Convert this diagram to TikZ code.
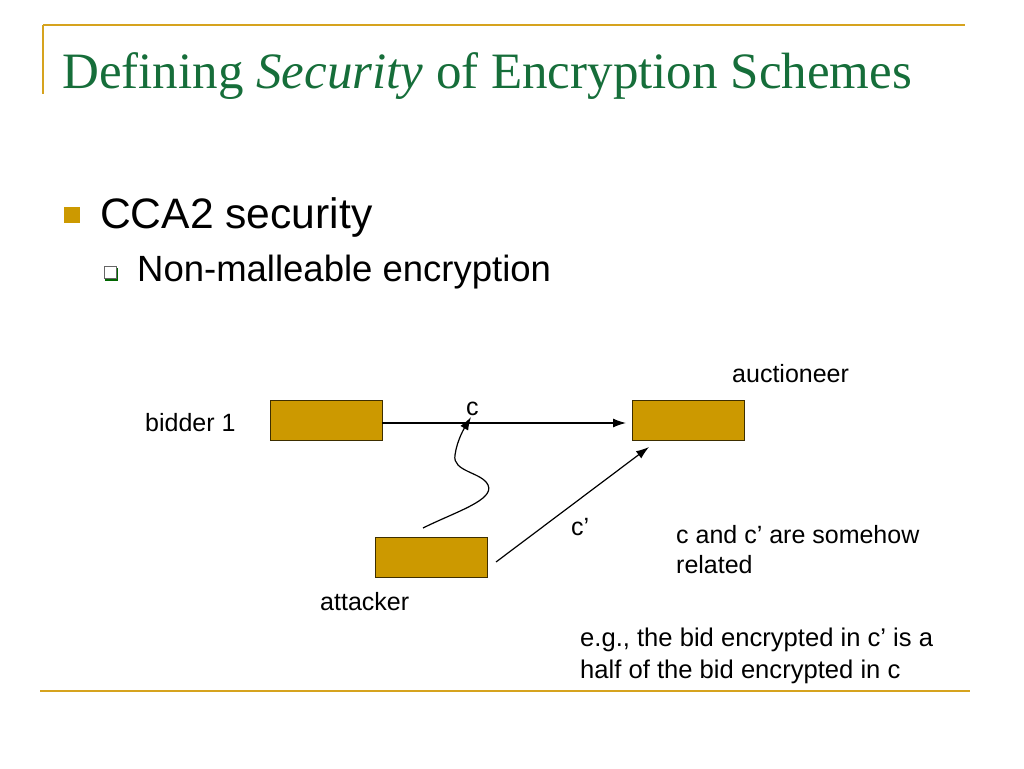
\documentclass[tikz,border=0pt]{standalone}
\usepackage{fontspec}
\setmainfont{Liberation Sans}
\newfontfamily\titlefont{Liberation Serif}
\usetikzlibrary{positioning,shapes,arrows.meta}
\definecolor{gold}{RGB}{214,163,30}
\definecolor{boxgold}{RGB}{204,153,0}
\definecolor{titlegreen}{RGB}{22,110,58}
\tikzset{
  party/.style={draw=black!70!boxgold,shape=rectangle,fill=boxgold,minimum width=112pt,minimum height=40pt,inner sep=0pt},
  txt/.style={anchor=base west,inner sep=0pt},
  msg/.style={-{Latex[length=13pt,width=9pt]},line width=1.2pt}
}
\begin{document}
\begin{tikzpicture}[x=1pt,y=-1pt]
\useasboundingbox (0,0) rectangle (1024,768);
% frame lines
\draw[gold,line width=2pt] (43,25) -- (965,25)
  (43,25) -- (43,94);
\draw[gold,line width=2pt] (40,691) -- (970,691);
\draw node (title) at (62,88) [txt,text=titlegreen]{\titlefont\fontsize{51}{60}\selectfont Defining \textit{Security} of Encryption Schemes};
% bullets
\draw node (b1) at (72,215) [fill=boxgold,minimum size=16pt,inner sep=0pt]{};
\draw node (cca) at (100,228) [txt]{\fontsize{42.6}{50}\selectfont CCA2 security};
\fill[green!40!black] (105,268) rectangle (118,281);
\draw node (b2) at (110,272) [draw=black!60,fill=white,minimum size=12pt,inner sep=0pt,line width=0.6pt]{};
\draw node (nm) at (137,281) [txt]{\fontsize{36.5}{44}\selectfont Non-malleable encryption};
% parties
\draw node (bid) at (326,420) [party]{};
\draw node (auc) at (688.5,420) [party]{};
\draw node (att) at (431,557) [party]{};
\draw node (bidl) at (145,431) [txt]{\fontsize{25}{30}\selectfont bidder 1};
\draw node (aucl) at (732,382) [txt]{\fontsize{25}{30}\selectfont auctioneer};
\draw node (attl) at (320,610) [txt]{\fontsize{25}{30}\selectfont attacker};
\draw node (cl) at (466,415) [txt]{\fontsize{25}{30}\selectfont c};
\draw node (cpl) at (571,535) [txt]{\fontsize{25}{30}\selectfont c’};
\draw node (rel) at (676,543) [txt]{\fontsize{25}{30}\selectfont c and c’ are somehow};
\draw node (rel2) at (676,573) [txt]{\fontsize{25}{30}\selectfont related};
\draw node (eg) at (580,646) [txt]{\fontsize{25.6}{30}\selectfont e.g., the bid encrypted in c’ is a};
\draw node (eg2) at (580,678) [txt]{\fontsize{25.6}{30}\selectfont half of the bid encrypted in c};
% messages
\coordinate (hit) at (626,423);
\coordinate (cs) at (496,562);
\coordinate (ce) at (649,447);
\coordinate (ws) at (423,528);
\coordinate (we) at (471,417);
\draw[msg] (bid.east |- hit) -- (hit);
\draw[msg] (cs) -- (ce);
\draw[msg] (ws) .. controls (455,512) and (495,500) .. (488,485)
  .. controls (482,472) and (452,472) .. (455,455)
  .. controls (457,440) and (465,427) .. (we);
\end{tikzpicture}
\end{document}
